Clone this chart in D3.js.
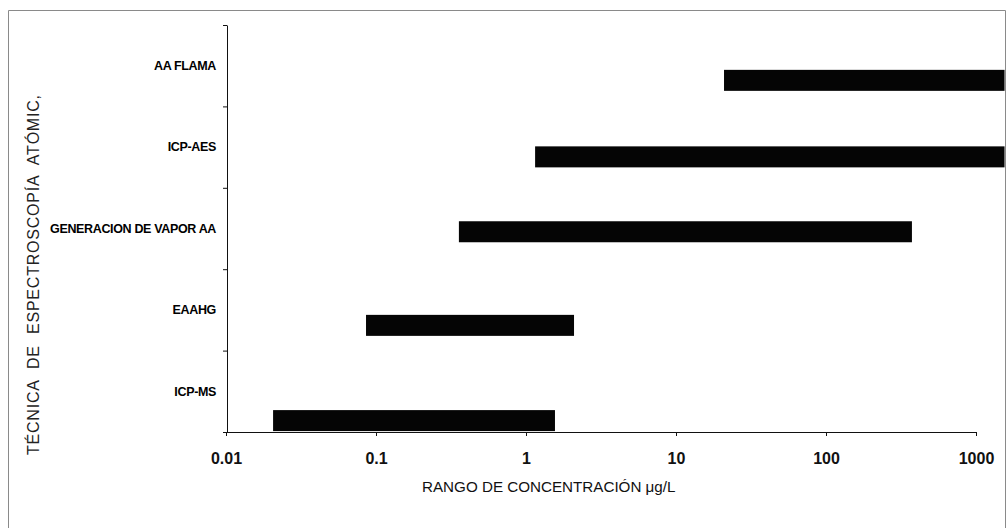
<!DOCTYPE html>
<html>
<head>
<meta charset="utf-8">
<script src="https://cdn.jsdelivr.net/npm/d3@7"></script>
<style>
  html, body { margin: 0; padding: 0; background: #fff; }
  svg { display: block; }
</style>
</head>
<body>
<svg id="chart" width="1006" height="528"></svg>
<script>
// Working concentration range (µg/L) of each atomic spectroscopy technique
const techniques = ["ICP-MS", "EAAHG", "GENERACION DE VAPOR AA", "ICP-AES", "AA FLAMA"];
const rangeMin = [0.0206, 0.0858, 0.357, 1.15, 20.9];
const rangeMax = [1.56, 2.09, 374, 1550, 1550];
// vertical level at which each range bar sits
const barLevel = [0.14, 1.31, 2.46, 3.38, 4.32];
const xTicks = [0.01, 0.1, 1, 10, 100, 1000];
const yTicks = [0, 1, 2, 3, 4, 5];

const svg = d3.select("#chart");
const ink = "#111";

// outer frame
svg.append("path")
  .attr("d", "M8.5,528 V10.5 H1005.5 V528")
  .attr("fill", "none")
  .attr("stroke", "#8a8a8a")
  .attr("stroke-width", 1);

const x = d3.scaleLog().domain([0.01, 1000]).range([226, 976]);
const y = d3.scaleLinear().domain([0, 5]).range([432, 25]);

// bars
svg.append("g")
  .selectAll("rect")
  .data(techniques.map((t, i) => ({ t, lo: rangeMin[i], hi: rangeMax[i], lvl: barLevel[i] })))
  .join("rect")
  .attr("x", d => x(d.lo))
  .attr("width", d => Math.min(x(d.hi), 1005) - x(d.lo))
  .attr("y", d => y(d.lvl) - 10.5)
  .attr("height", 21)
  .attr("fill", "#050505");

// y axis
const yAxis = svg.append("g")
  .attr("transform", "translate(227,0)")
  .call(d3.axisLeft(y).tickValues(yTicks).tickFormat("").tickSize(4).tickSizeOuter(0));
yAxis.select(".domain").attr("stroke", ink);
yAxis.selectAll(".tick line").attr("stroke", ink);

// x axis
const xAxis = svg.append("g")
  .attr("transform", "translate(0,432)")
  .call(d3.axisBottom(x).tickValues(xTicks).tickFormat(d3.format("~g")).tickSize(4).tickSizeOuter(0));
xAxis.select(".domain").attr("stroke", ink);
xAxis.selectAll(".tick line").attr("stroke", ink);
xAxis.selectAll(".tick text")
  .attr("y", 26)
  .attr("dy", "0.35em")
  .attr("fill", ink)
  .style("font-family", "Liberation Sans, Arial, sans-serif")
  .style("font-size", "16px")
  .style("font-weight", "bold");

// category labels, centred in each band
svg.append("g")
  .selectAll("text")
  .data(techniques)
  .join("text")
  .attr("x", 216)
  .attr("y", (d, i) => y(i + 0.5))
  .attr("dy", "0.35em")
  .attr("text-anchor", "end")
  .attr("fill", "#000")
  .style("font-family", "Liberation Sans, Arial, sans-serif")
  .style("font-size", "12.5px")
  .style("font-weight", "bold")
  .style("letter-spacing", "-0.35px")
  .text(d => d);

// axis titles
svg.append("text")
  .attr("x", 422)
  .attr("y", 487)
  .attr("dy", "0.35em")
  .attr("fill", ink)
  .style("font-family", "Liberation Sans, Arial, sans-serif")
  .style("font-size", "15.2px")
  .text("RANGO DE CONCENTRACIÓN μg/L");

svg.append("text")
  .attr("transform", "translate(33,275) rotate(-90)")
  .attr("text-anchor", "middle")
  .attr("dy", "0.35em")
  .attr("fill", "#222")
  .attr("textLength", 360)
  .attr("lengthAdjust", "spacing")
  .style("font-family", "Liberation Sans, Arial, sans-serif")
  .style("font-size", "16px")
  .style("word-spacing", "6px")
  .text("TÉCNICA DE ESPECTROSCOPÍA ATÓMIC,");
</script>
</body>
</html>
